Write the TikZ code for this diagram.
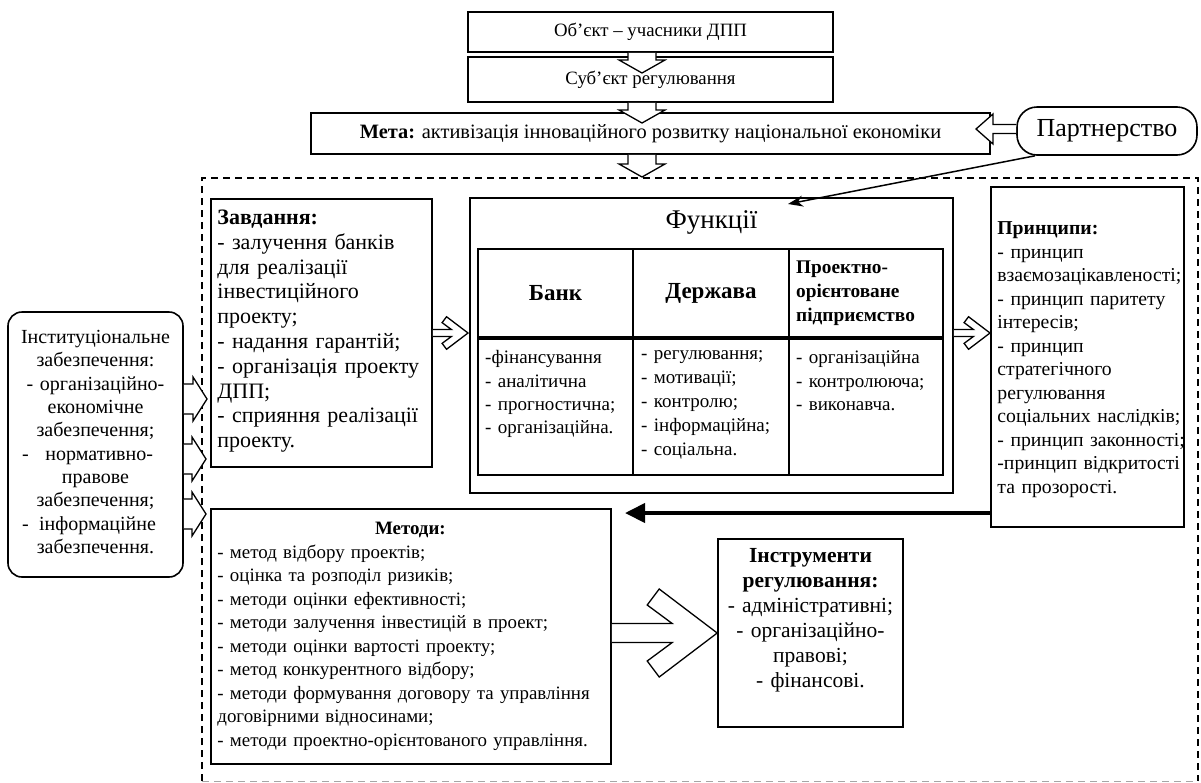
\documentclass[tikz,border=0pt]{standalone}
\usepackage{fontspec}
\setmainfont{Liberation Serif}
\usetikzlibrary{arrows.meta,calc}
\hyphenpenalty=10000
\exhyphenpenalty=10000
\newcommand\fsz[2]{\fontsize{#1pt}{#2pt}\selectfont}
% down block arrow: #1 source anchor, #2 tip coordinate
\newcommand\downarr[2]{%
  \draw[harrow] ($(#2 |- #1)+(-14,0)$) -- ($(#2)+(-14,-13)$) -- ($(#2)+(-23,-13)$) -- (#2) -- ($(#2)+(23,-13)$) -- ($(#2)+(14,-13)$) -- ($(#2 |- #1)+(14,0)$);}
% right block arrow
\newcommand\rightarr[2]{%
  \draw[harrow] ($(#1 |- #2)+(0,-15)$) -- ($(#2)+(-14,-15)$) -- ($(#2)+(-14,-22)$) -- (#2) -- ($(#2)+(-14,22)$) -- ($(#2)+(-14,15)$) -- ($(#1 |- #2)+(0,15)$);}
% left block arrow
\newcommand\leftarr[2]{%
  \draw[harrow] ($(#1 |- #2)+(0,-4.5)$) -- ($(#2)+(17,-4.5)$) -- ($(#2)+(17,-15)$) -- (#2) -- ($(#2)+(17,15)$) -- ($(#2)+(17,4.5)$) -- ($(#1 |- #2)+(0,4.5)$);}
% chevron arrow
\newcommand\chevarr[3]{%
  \draw[harrow] ($(#1 |- #2)+(0,-9.5*#3)$) -- ($(#2)+(-45*#3,-9.5*#3)$) -- ($(#2)+(-70*#3,-28*#3)$) -- ($(#2)+(-58*#3,-44*#3)$) -- (#2) -- ($(#2)+(-58*#3,44*#3)$) -- ($(#2)+(-70*#3,28*#3)$) -- ($(#2)+(-45*#3,9.5*#3)$) -- ($(#1 |- #2)+(0,9.5*#3)$);}
\newcommand\spreadline[3]{\leavevmode\hbox to 147pt{-\hfill #1\hspace*{#2}}}
\begin{document}
\begin{tikzpicture}[x=1pt,y=-1pt,
  box/.style={draw,line width=1.6pt,inner sep=0pt,align=center},
  cell/.style={draw,line width=2pt,inner sep=0pt,align=center},
  harrow/.style={draw,line width=1.3pt,fill=white,line join=miter},
  frame/.style={line width=2.5pt,dash pattern=on 7pt off 5pt},
  txt/.style={inner sep=0pt,align=left,anchor=north west},
  ctxt/.style={inner sep=0pt,align=center,anchor=north}]
\useasboundingbox (0,0) rectangle (1201,782);
\fill[white] (0,0) rectangle (1201,782);

% dashed frame
\draw[frame] (202,781) -- (202,178) -- (1198,178) -- (1198,781);
\draw[black!35,line width=1pt,dash pattern=on 7pt off 5pt] (202,781) -- (1198,781);

% top boxes
\node[box,minimum width=365pt,minimum height=40pt,font=\fsz{18.8}{22}] (obj) at (650.5,32) {Об’єкт – учасники ДПП};
\node[box,minimum width=365pt,minimum height=45pt,font=\fsz{18.8}{22}] (subj) at (650.5,79.5) {Суб’єкт регулювання};
\node[box,minimum width=679pt,minimum height=41pt,font=\fsz{20.4}{23}] (meta) at (650.5,133.5) {\textbf{Мета:} активізація інноваційного розвитку національної економіки};
\node[box,rounded corners=20pt,minimum width=180pt,minimum height=48pt,font=\fsz{26}{30}] (part) at (1107,131) {Партнерство};

% left institutional box
\node[box,rounded corners=14pt,minimum width=175pt,minimum height=265pt] (inst) at (95.5,444.5) {};
\node[ctxt,text width=175pt,font=\fsz{20}{23.3}] (instt) at ($(inst.north)+(0,19)$)
 {Інституціональне\\забезпечення:\\- організаційно-\\економічне\\забезпечення;\\
  \spreadline{нормативно-}{16pt}{}\\правове\\забезпечення;\\
  \spreadline{інформаційне}{13pt}{}\\забезпечення.};

% Завдання
\node[box,minimum width=221pt,minimum height=268pt] (zav) at (321.5,333) {};
\node[txt,text width=215pt,font=\fsz{22}{24.8}] (zavt) at ($(zav.north west)+(7,11.6)$)
 {\textbf{Завдання:}\\- залучення банків\\для реалізації\\інвестиційного\\проекту;\\- надання гарантій;\\- організація проекту\\ДПП;\\- сприяння реалізації\\проекту.};

% Функції
\node[box,minimum width=483pt,minimum height=295pt] (fun) at (711.5,345.5) {};
\node[inner sep=0pt,font=\fsz{27}{30}] (funt) at (711.5,222) {Функції};
\node[cell,minimum width=155pt,minimum height=88pt,font=\fsz{23}{26}\bfseries] (h1) at (555.5,293) {Банк};
\node[cell,minimum width=156pt,minimum height=88pt,font=\fsz{23}{26}\bfseries] (h2) at (711,293) {Держава};
\node[cell,minimum width=154pt,minimum height=88pt] (h3) at (866,293) {};
\node[txt,text width=150pt,font=\fsz{19.3}{24}\bfseries] (h3t) at ($(h3.north west)+(8,12.5)$) {Проектно-\\орієнтоване\\підприємство};
\node[cell,minimum width=155pt,minimum height=138pt] (b1) at (555.5,406) {};
\node[cell,minimum width=156pt,minimum height=138pt] (b2) at (711,406) {};
\node[cell,minimum width=154pt,minimum height=138pt] (b3) at (866,406) {};
\draw[line width=3.5pt] (h1.south west) -- (h3.south east);
\node[txt,text width=150pt,font=\fsz{19}{23.3}] (b1t) at ($(b1.north west)+(8,14.5)$) {-фінансування\\- аналітична\\- прогностична;\\- організаційна.};
\node[txt,text width=150pt,font=\fsz{19}{24}] (b2t) at ($(b2.north west)+(9,14.5)$) {- регулювання;\\- мотивації;\\- контролю;\\- інформаційна;\\- соціальна.};
\node[txt,text width=150pt,font=\fsz{19}{23.3}] (b3t) at ($(b3.north west)+(8,14.5)$) {- організаційна\\- контролююча;\\- виконавча.};

% Принципи
\node[box,minimum width=193pt,minimum height=340pt] (prin) at (1087.5,357) {};
\node[txt,text width=200pt,font=\fsz{19.7}{23.5}] (print) at ($(prin.north west)+(7,35.5)$)
 {\textbf{Принципи:}\\- принцип\\взаємозацікавленості;\\- принцип паритету\\інтересів;\\- принцип\\стратегічного\\регулювання\\соціальних наслідків;\\- принцип законності;\\-принцип відкритості\\та прозорості.};

% Методи
\node[box,minimum width=400pt,minimum height=255pt] (met) at (411,636.5) {};
\node[txt,text width=386pt,font=\fsz{18.9}{23.5}] (mett) at ($(met.north west)+(7,14)$)
 {\makebox[386pt]{\textbf{Методи:}}\\- метод відбору проектів;\\- оцінка та розподіл ризиків;\\- методи оцінки ефективності;\\- методи залучення інвестицій в проект;\\- методи оцінки вартості проекту;\\- метод конкурентного відбору;\\- методи формування договору та управління\\договірними відносинами;\\- методи проектно-орієнтованого управління.};

% Інструменти
\node[box,minimum width=185pt,minimum height=188pt] (instr) at (810.5,633) {};
\node[ctxt,text width=185pt,font=\fsz{21.5}{25}] (instrt) at ($(instr.north)+(0,10)$)
 {\textbf{Інструменти}\\\textbf{регулювання:}\\- адміністративні;\\- організаційно-\\правові;\\- фінансові.};

% block arrows
\coordinate (t1) at (642,73);
\coordinate (t2) at (642,123);
\coordinate (t3) at (642,177);
\downarr{obj.south}{t1}
\downarr{subj.south}{t2}
\downarr{meta.south}{t3}
\coordinate (t4) at (976,129);
\leftarr{part.west}{t4}
\coordinate (l1) at (207,399);
\coordinate (l2) at (206,459);
\coordinate (l3) at (206,514);
\rightarr{inst.east}{l1}
\rightarr{inst.east}{l2}
\rightarr{inst.east}{l3}
\coordinate (c1) at (468,333);
\coordinate (c2) at (990,333);
\chevarr{zav.east}{c1}{0.37}
\chevarr{fun.east}{c2}{0.37}
\chevarr{met.east}{instr.west}{1}

% thick arrow Принципи -> Методи
\coordinate (pm) at (625,513);
\draw[line width=4pt,-{Triangle[length=20pt,width=19pt]}] (prin.west |- pm) -- (pm);

% Партнерство -> Функції
\coordinate (ps) at ($(part.south)+(-72,0)$);
\coordinate (pf) at (788,204);
\draw[line width=1.5pt,-{Stealth[length=15pt,width=11pt]}] (ps) -- (pf);
\end{tikzpicture}
\end{document}
